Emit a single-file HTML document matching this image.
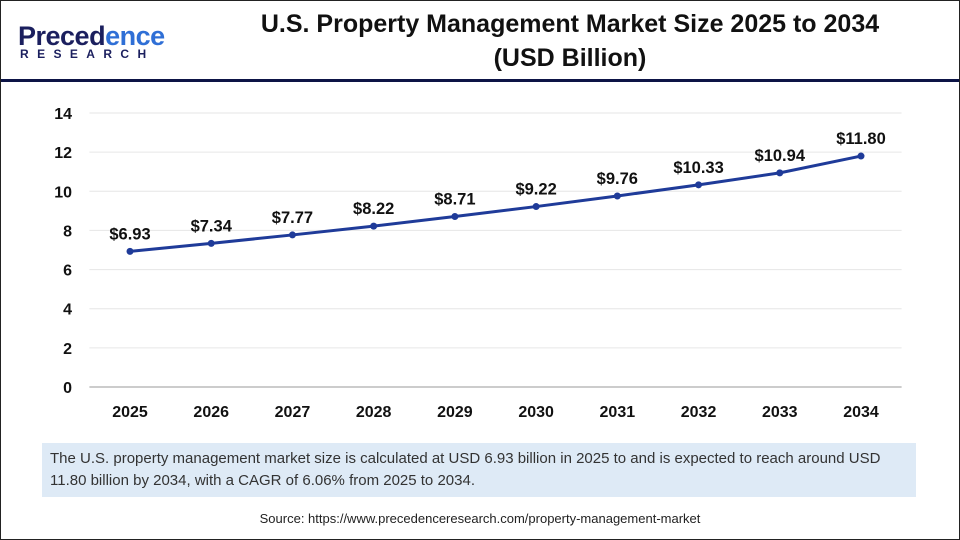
<!DOCTYPE html>
<html><head><meta charset="utf-8"><style>
body{margin:0;width:960px;height:540px;overflow:hidden;background:#fff;font-family:"Liberation Sans",Arial,sans-serif;}
#frame{position:absolute;left:0;top:0;width:958px;height:538px;border:1px solid #222;}
#hr{position:absolute;left:1px;top:79px;width:958px;height:3px;background:#0d1446;}
#title{position:absolute;left:200px;top:7px;width:740px;text-align:center;font-weight:bold;font-size:25px;line-height:34px;color:#111;}
#logo1{position:absolute;left:18px;top:21px;font-size:27px;color:#1b1f5e;font-weight:bold;letter-spacing:-0.5px;}
#logo1 b{color:#2f6fd6;}
#logo2{position:absolute;left:20px;top:47px;font-size:12px;color:#1b1f5e;font-weight:bold;letter-spacing:8.4px;}
#note{position:absolute;left:42px;top:443px;width:858px;height:54px;background:#deeaf6;padding:0 8px;box-sizing:content-box;font-size:15px;line-height:22px;color:#333;}
#note span{display:block;padding-top:5px;}
#src{position:absolute;left:0;width:960px;top:511px;text-align:center;font-size:13px;color:#222;}
</style></head><body>
<div id="frame"></div>
<div id="hr"></div>
<div id="logo1">Preced<b>ence</b></div>
<div id="logo2">RESEARCH</div>
<div id="title">U.S. Property Management Market Size 2025 to 2034<br>(USD Billion)</div>
<svg id="chart" width="960" height="540" style="position:absolute;left:0;top:0"></svg>
<div id="note"><span>The U.S. property management market size is calculated at USD 6.93 billion in 2025 to and is expected to reach around USD 11.80 billion by 2034, with a CAGR of 6.06% from 2025 to 2034.</span></div>
<div id="src">Source: https://www.precedenceresearch.com/property-management-market</div>
<script>
const categories=["2025","2026","2027","2028","2029","2030","2031","2032","2033","2034"];
const values=[6.93,7.34,7.77,8.22,8.71,9.22,9.76,10.33,10.94,11.80];
const valueLabels=["$6.93","$7.34","$7.77","$8.22","$8.71","$9.22","$9.76","$10.33","$10.94","$11.80"];
const yTicks=[0,2,4,6,8,10,12,14];
const svg=document.getElementById('chart');
const NS='http://www.w3.org/2000/svg';
const x0=89.4,x1=901.6,y0=387,y1=113,ymax=14;
const step=(x1-x0)/categories.length;
const xs=i=>x0+step*(i+0.5);
const ys=v=>y0-(v/ymax)*(y0-y1);
function mk(t,a){const e=document.createElementNS(NS,t);for(const k in a)e.setAttribute(k,a[k]);svg.appendChild(e);return e;}
yTicks.forEach(t=>{
 const g=mk('line',{x1:x0,x2:x1,y1:ys(t),y2:ys(t),stroke:t===0?'#bbb':'#e6e6e6','stroke-width':t===0?1.5:1});
 
 
 const l=mk('text',{x:72,y:ys(t)+6,'text-anchor':'end','font-size':16,'font-weight':'bold',fill:'#111'});
 l.textContent=t;
 
 
});
categories.forEach((c,i)=>{
 const l=mk('text',{x:xs(i),y:417,'text-anchor':'middle','font-size':16,'font-weight':'bold',fill:'#111'});
 l.textContent=c;
 
 
});
const line=mk('polyline',{points:values.map((v,i)=>xs(i)+','+ys(v)).join(' '),fill:'none',stroke:'#1f3b99','stroke-width':3});


values.forEach((v,i)=>{
 const p=mk('circle',{cx:xs(i),cy:ys(v),r:3.5,fill:'#1f3b99'});
 
 
 const t=mk('text',{x:xs(i),y:ys(v)-12,'text-anchor':'middle','font-size':16.5,'font-weight':'bold',fill:'#111'});
 t.textContent=valueLabels[i];
 
 
});
</script>
</body></html>
